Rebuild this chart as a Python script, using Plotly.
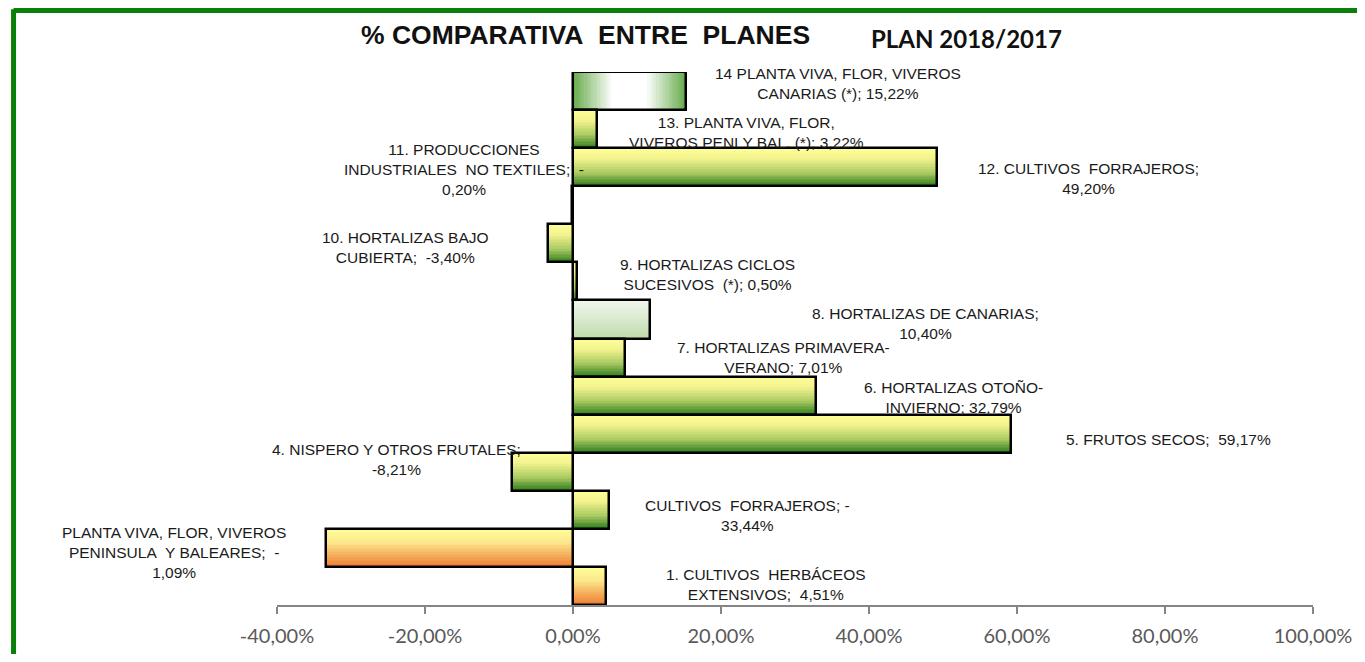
import plotly.graph_objects as go

# ---------------- data ----------------
categories = [
    "1. CULTIVOS HERBÁCEOS EXTENSIVOS",
    "PLANTA VIVA, FLOR, VIVEROS PENINSULA Y BALEARES",
    "CULTIVOS FORRAJEROS",
    "4. NISPERO Y OTROS FRUTALES",
    "5. FRUTOS SECOS",
    "6. HORTALIZAS OTOÑO-INVIERNO",
    "7. HORTALIZAS PRIMAVERA-VERANO",
    "8. HORTALIZAS DE CANARIAS",
    "9. HORTALIZAS CICLOS SUCESIVOS (*)",
    "10. HORTALIZAS BAJO CUBIERTA",
    "11. PRODUCCIONES INDUSTRIALES NO TEXTILES",
    "12. CULTIVOS FORRAJEROS",
    "13. PLANTA VIVA, FLOR, VIVEROS PENI Y BAL. (*)",
    "14 PLANTA VIVA, FLOR, VIVEROS CANARIAS (*)",
]
values = [4.51, -33.44, 4.9, -8.21, 59.17, 32.79, 7.01, 10.40, 0.50, -3.40, -0.20, 49.20, 3.22, 15.22]

label_texts = [
    "1. CULTIVOS\u00a0 HERBÁCEOS<br>EXTENSIVOS;\u00a0 4,51%",
    "PLANTA VIVA, FLOR, VIVEROS<br>PENINSULA\u00a0 Y BALEARES;\u00a0 -<br>1,09%",
    "CULTIVOS\u00a0 FORRAJEROS; -<br>33,44%",
    "4. NISPERO Y OTROS FRUTALES;<br>-8,21%",
    "5. FRUTOS SECOS;\u00a0 59,17%",
    "6. HORTALIZAS OTOÑO-<br>INVIERNO; 32,79%",
    "7. HORTALIZAS PRIMAVERA-<br>VERANO; 7,01%",
    "8. HORTALIZAS DE CANARIAS;<br>10,40%",
    "9. HORTALIZAS CICLOS<br>SUCESIVOS\u00a0 (*); 0,50%",
    "10. HORTALIZAS BAJO<br>CUBIERTA;\u00a0 -3,40%",
    "11. PRODUCCIONES<br>INDUSTRIALES\u00a0 NO TEXTILES;\u00a0 -<br>0,20%",
    "12. CULTIVOS\u00a0 FORRAJEROS;<br>49,20%",
    "13. PLANTA VIVA, FLOR,<br>VIVEROS PENI Y BAL. (*); 3,22%",
    "14 PLANTA VIVA, FLOR, VIVEROS<br>CANARIAS (*); 15,22%",
]

tick_vals = [-40, -20, 0, 20, 40, 60, 80, 100]
tick_text = ["-40,00%", "-20,00%", "0,00%", "20,00%", "40,00%", "60,00%", "80,00%", "100,00%"]

title_text = "% COMPARATIVA\u00a0 ENTRE\u00a0 PLANES"
subtitle_text = "PLAN 2018/2017"

# ---------------- styles / positions ----------------
# label anchor positions (x in axis %, y in category units)
label_pos = [
    (26.1, 0.03), (-53.9, 0.89), (23.6, 1.84), (-23.9, 3.33), (80.5, 3.86),
    (51.4, 4.95), (28.4, 6.00), (47.7, 6.89), (18.2, 8.17), (-22.6, 8.90),
    (-14.7, 10.95), (69.6, 10.69), (23.4, 11.92), (35.8, 13.21),
]
scheme = ["orange", "orange", "yg", "yg", "yg", "yg", "yg", "light", "yg", "yg", "yg", "yg", "yg", "radial"]

stops = {
    "yg": [(0.0, "#FFFF99"), (0.28, "#F3F38F"), (0.65, "#AACA62"), (1.0, "#2C7B1C")],
    "orange": [(0.0, "#FFFF99"), (0.35, "#FCE88C"), (1.0, "#EE7A30")],
    "light": [(0.0, "#F1F7EF"), (1.0, "#BFDBAB")],
    "radial": [(0.0, "#FFFFFF"), (0.3, "#FFFFFF"), (1.0, "#66AB4A")],
}


def hex2rgb(h):
    h = h.lstrip("#")
    return tuple(int(h[i:i + 2], 16) for i in (0, 2, 4))


def color_at(name, t):
    st = stops[name]
    for (t0, c0), (t1, c1) in zip(st[:-1], st[1:]):
        if t <= t1:
            f = 0 if t1 == t0 else (t - t0) / (t1 - t0)
            a, b = hex2rgb(c0), hex2rgb(c1)
            return "rgb(%d,%d,%d)" % tuple(round(a[i] + (b[i] - a[i]) * f) for i in range(3))
    return "rgb(%d,%d,%d)" % hex2rgb(st[-1][1])


n = len(values)
pos = list(range(n))
fig = go.Figure()

# vertical gradient strips (top -> bottom), layered so no seams
N = 26
for k in range(N):
    t = 1 - (k + 0.5) / N
    xs = [v if s != "radial" else None for v, s in zip(values, scheme)]
    cols = [color_at(s if s != "radial" else "yg", t) for s in scheme]
    fig.add_trace(go.Bar(
        x=xs, y=pos, orientation="h", width=1 - k / N, offset=-0.5 + k / N,
        marker=dict(color=cols, line=dict(width=0)),
        hoverinfo="skip", showlegend=False,
    ))

# horizontal gradient (green edges, white centre) for the radial-style bar
M = 50
for i, s in enumerate(scheme):
    if s != "radial":
        continue
    v = values[i]
    for j in range(M):
        frac = (j + 0.5) / M
        t = abs(frac - 0.5) * 2
        base = v * j / M
        fig.add_trace(go.Bar(
            x=[v - base], y=[pos[i]], base=[base], orientation="h", width=1, offset=-0.5,
            marker=dict(color=color_at("radial", t), line=dict(width=0)),
            hoverinfo="skip", showlegend=False,
        ))

# outlines
fig.add_trace(go.Bar(
    x=values, y=pos, orientation="h", width=1, offset=-0.5,
    marker=dict(color="rgba(0,0,0,0)", line=dict(color="black", width=2.5)),
    customdata=categories, hovertemplate="%{customdata}: %{x:.2f}%<extra></extra>",
    showlegend=False,
))

annotations = []
for txt, (lx, ly) in zip(label_texts, label_pos):
    annotations.append(dict(
        text=txt, xref="paper", yref="paper",
        x=(lx + 40) / 140, y=(ly + 0.5) / n,
        xanchor="center", yanchor="middle", showarrow=False, align="center",
        font=dict(family="Liberation Sans, Arial, sans-serif", size=15.5, color="#1a1a1a"),
    ))
annotations.append(dict(
    text="<b>%s</b>" % title_text, xref="paper", yref="paper", x=0.2973, y=1.0694,
    xanchor="center", yanchor="middle", showarrow=False,
    font=dict(family="Liberation Sans, Arial, sans-serif", size=26.5, color="#111111"),
))
annotations.append(dict(
    text="<b>%s</b>" % subtitle_text, xref="paper", yref="paper", x=0.666, y=1.0629,
    xanchor="center", yanchor="middle", showarrow=False,
    font=dict(family="Lato, sans-serif", size=24, color="#111111"),
))

frame = dict(color="#0A800A", width=5)
fig.update_layout(
    width=1349, height=646,
    margin=dict(l=269, r=44, t=64, b=49, autoexpand=False),
    plot_bgcolor="white", paper_bgcolor="white",
    barmode="overlay", bargap=0,
    annotations=annotations,
    shapes=[
        dict(type="line", xref="paper", yref="paper", x0=-0.2543, x1=1.05, y0=1.1154, y1=1.1154,
             line=frame, layer="above"),
        dict(type="line", xref="paper", yref="paper", x0=-0.2543, x1=-0.2543, y0=1.1154 + 0.0023, y1=-0.1,
             line=frame, layer="above"),
    ],
    xaxis=dict(
        range=[-40, 100], tickvals=tick_vals, ticktext=tick_text, automargin=False,
        showgrid=False, zeroline=False, showline=True,
        linecolor="#868686", linewidth=1.5, ticks="outside", ticklen=7,
        tickcolor="#868686", tickwidth=1.5, ticklabelstandoff=5,
        tickfont=dict(family="Lato, sans-serif", size=20, color="#595959"),
    ),
    yaxis=dict(range=[-0.5, n - 0.5], showticklabels=False, showgrid=False, automargin=False,
               zeroline=False, showline=False, ticks=""),
)

fig.write_html("out.html")
